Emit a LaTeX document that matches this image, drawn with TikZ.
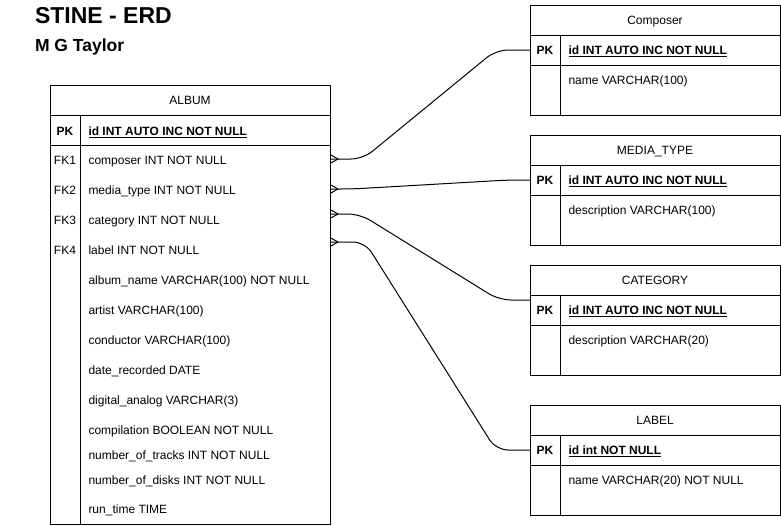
\documentclass[tikz,border=0pt]{standalone}
\usepackage{fontspec}
\setmainfont{Liberation Sans}
\begin{document}
\begin{tikzpicture}[x=1pt,y=-1pt,line width=1pt,
  txt/.style={font=\fontsize{12}{14}\selectfont,inner sep=0pt,anchor=base},
  hdr/.style={txt},
  keylbl/.style={txt},
  pklbl/.style={txt,font=\fontsize{12}{14}\selectfont\bfseries},
  attr/.style={txt,anchor=base west},
  pkattr/.style={attr,font=\fontsize{12}{14}\selectfont\bfseries},
  rel/.style={line width=1pt,rounded corners=12pt},
  foot/.style={line width=1pt,line join=miter}]
\useasboundingbox (0,0) rectangle (781,525);
\fill[white] (0,0) rectangle (781,525);
\def\bl{4.3}

% title
\node[font=\fontsize{23}{27}\selectfont\bfseries,anchor=base west,inner sep=0pt] (title) at (34.5,23) {STINE - ERD};
\node[font=\fontsize{17.5}{21}\selectfont\bfseries,anchor=base west,inner sep=0pt] (author) at (34.5,51.5) {M G Taylor};

% ALBUM
\draw (50,85) rectangle (330,524);
\draw (50,115) -- (330,115);
\draw (50,145) -- (330,145);
\draw (80,115) -- (80,524);
\node[hdr] (albumH) at (190,100+\bl) {ALBUM};
\node[pklbl] (albumPK) at (65,131+\bl) {PK};
\node[pkattr] (albumId) at (88,131+\bl) {\underline{id INT AUTO INC NOT NULL}};
\node[keylbl] (fk1) at (65,160.5+\bl) {FK1};
\node[keylbl] (fk2) at (65,190.5+\bl) {FK2};
\node[keylbl] (fk3) at (65,220.5+\bl) {FK3};
\node[keylbl] (fk4) at (65,250.5+\bl) {FK4};
\node[attr] (aComp) at (88,160.5+\bl) {composer INT NOT NULL};
\node[attr] (aMedia) at (88,190.5+\bl) {media\_type INT NOT NULL};
\node[attr] (aCat) at (88,220.5+\bl) {category INT NOT NULL};
\node[attr] (aLabel) at (88,250.5+\bl) {label INT NOT NULL};
\node[attr] (aName) at (88,280.5+\bl) {album\_name VARCHAR(100) NOT NULL};
\node[attr] (aArtist) at (88,310.5+\bl) {artist VARCHAR(100)};
\node[attr] (aCond) at (88,340.5+\bl) {conductor VARCHAR(100)};
\node[attr] (aDate) at (88,370.5+\bl) {date\_recorded DATE};
\node[attr] (aDig) at (88,400.5+\bl) {digital\_analog VARCHAR(3)};
\node[attr] (aComp2) at (88,430.5+\bl) {compilation BOOLEAN NOT NULL};
\node[attr] (aTracks) at (88,455.5+\bl) {number\_of\_tracks INT NOT NULL};
\node[attr] (aDisks) at (88,480.5+\bl) {number\_of\_disks INT NOT NULL};
\node[attr] (aRun) at (88,509.5+\bl) {run\_time TIME};

% Composer
\draw (530,5) rectangle (780,115);
\draw (530,35) -- (780,35);
\draw (530,65) -- (780,65);
\draw (560,35) -- (560,115);
\node[hdr] (compH) at (655,20+\bl) {Composer};
\node[pklbl] (compPK) at (545,50.5+\bl) {PK};
\node[pkattr] (compId) at (568,50.5+\bl) {\underline{id INT AUTO INC NOT NULL}};
\node[attr] (compName) at (568,80+\bl) {name VARCHAR(100)};

% MEDIA_TYPE
\draw (530,135) rectangle (780,245);
\draw (530,165) -- (780,165);
\draw (530,195) -- (780,195);
\draw (560,165) -- (560,245);
\node[hdr] (mediaH) at (655,150+\bl) {MEDIA\_TYPE};
\node[pklbl] (mediaPK) at (545,180.5+\bl) {PK};
\node[pkattr] (mediaId) at (568,180.5+\bl) {\underline{id INT AUTO INC NOT NULL}};
\node[attr] (mediaDesc) at (568,210+\bl) {description VARCHAR(100)};

% CATEGORY
\draw (530,265) rectangle (780,375);
\draw (530,295) -- (780,295);
\draw (530,325) -- (780,325);
\draw (560,295) -- (560,375);
\node[hdr] (catH) at (655,280+\bl) {CATEGORY};
\node[pklbl] (catPK) at (545,310.5+\bl) {PK};
\node[pkattr] (catId) at (568,310.5+\bl) {\underline{id INT AUTO INC NOT NULL}};
\node[attr] (catDesc) at (568,340+\bl) {description VARCHAR(20)};

% LABEL
\draw (530,405) rectangle (780,515);
\draw (530,435) -- (780,435);
\draw (530,465) -- (780,465);
\draw (560,435) -- (560,515);
\node[hdr] (labH) at (655,420+\bl) {LABEL};
\node[pklbl] (labPK) at (545,450.5+\bl) {PK};
\node[pkattr] (labId) at (568,450.5+\bl) {\underline{id int NOT NULL}};
\node[attr] (labName) at (568,480+\bl) {name VARCHAR(20) NOT NULL};

% connector end points
\coordinate (e1) at (330,159);
\coordinate (e2) at (330,189);
\coordinate (e3) at (330,214);
\coordinate (e4) at (330,242);
\coordinate (p1) at (530,50);
\coordinate (p2) at (530,180);
\coordinate (p3) at (530,300);
\coordinate (p4) at (530,450);

\draw[rel] (e1) -- (363,159) -- (496,50) -- (p1);
\draw[rel] (e2) -- (352,189) -- (508,180) -- (p2);
\draw[rel] (e3) -- (360,214) -- (499,300) -- (p3);
\draw[rel] (e4) -- (365,242) -- (496,450) -- (p4);

\foreach \yy in {159,189,214,242}
  \draw[foot] (330,\yy-4.5) -- (338,\yy) -- (330,\yy+4.5);
\end{tikzpicture}
\end{document}
